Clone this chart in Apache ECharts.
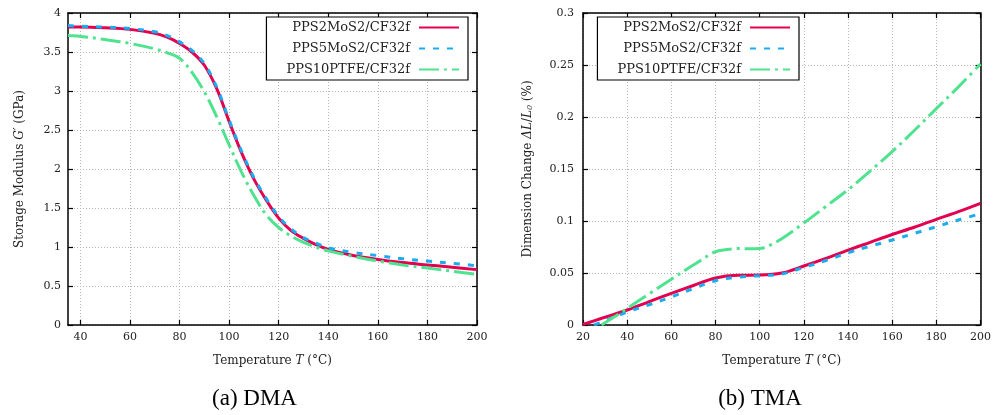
<!DOCTYPE html>
<html>
<head>
<meta charset="utf-8">
<script src="https://cdn.jsdelivr.net/npm/echarts@6/dist/echarts.min.js"></script>
<style>
  html, body { margin: 0; padding: 0; background: #fff; }
  #chart { width: 994px; height: 415px; }
</style>
</head>
<body>
<div id="chart"></div>
<script>
// ---- Data ----
const seriesNames = ['PPS2MoS2/CF32f', 'PPS5MoS2/CF32f', 'PPS10PTFE/CF32f'];

// DMA: storage modulus G' (GPa) vs temperature (°C)
const dmaTemps = [35, 40, 50, 60, 70, 75, 80, 85, 90, 95, 100, 105, 110, 115, 120, 125, 130, 135, 140, 150, 160, 170, 180, 190, 200];
const dmaPPS2MoS2 = [3.82, 3.82, 3.81, 3.79, 3.74, 3.69, 3.61, 3.50, 3.33, 3.03, 2.61, 2.21, 1.87, 1.60, 1.37, 1.21, 1.11, 1.03, 0.97, 0.89, 0.84, 0.80, 0.77, 0.74, 0.71];
const dmaPPS5MoS2 = [3.84, 3.83, 3.82, 3.80, 3.76, 3.71, 3.63, 3.52, 3.35, 3.05, 2.63, 2.23, 1.89, 1.62, 1.39, 1.23, 1.12, 1.05, 0.99, 0.93, 0.89, 0.85, 0.82, 0.79, 0.76];
const dmaPPS10PTFE = [3.71, 3.70, 3.66, 3.61, 3.54, 3.49, 3.42, 3.24, 2.99, 2.67, 2.31, 1.96, 1.66, 1.41, 1.25, 1.14, 1.06, 1.00, 0.95, 0.88, 0.82, 0.77, 0.73, 0.69, 0.65];

// TMA: dimension change (%) vs temperature (°C)
const tmaTempsPPS2MoS2 = [20, 25, 30, 40, 50, 60, 70, 80, 90, 100, 110, 120, 130, 140, 150, 160, 170, 180, 190, 200];
const tmaPPS2MoS2 = [0.0005, 0.004, 0.0075, 0.0144, 0.0225, 0.0304, 0.038, 0.0452, 0.0478, 0.048, 0.050, 0.0567, 0.064, 0.072, 0.0795, 0.087, 0.094, 0.1016, 0.109, 0.117];
const tmaTempsPPS5MoS2 = [25, 30, 40, 50, 60, 70, 80, 90, 100, 110, 120, 130, 140, 150, 160, 170, 180, 190, 200];
const tmaPPS5MoS2 = [0.0, 0.004, 0.0125, 0.0195, 0.027, 0.035, 0.0426, 0.046, 0.0474, 0.049, 0.0554, 0.062, 0.0695, 0.0757, 0.0817, 0.088, 0.0945, 0.101, 0.107];
const tmaTempsPPS10PTFE = [28.4, 35, 40, 50, 60, 70, 80, 85, 90, 95, 100, 105, 110, 120, 130, 140, 150, 160, 170, 180, 190, 200];
const tmaPPS10PTFE = [0.0, 0.009, 0.016, 0.030, 0.044, 0.0577, 0.0705, 0.0725, 0.0735, 0.0733, 0.0735, 0.077, 0.083, 0.098, 0.114, 0.130, 0.148, 0.1667, 0.187, 0.208, 0.229, 0.251];

// Tick values
const dmaXTicks = [40, 60, 80, 100, 120, 140, 160, 180, 200];

// ---- Styling ----
const colors = ['#E3004F', '#1AABF0', '#4FE38F'];
const dashes = ['solid', [6, 8], [20, 5, 3, 5]];
const FONT = '"DejaVu Serif", serif';
const CAPTION_FONT = 'normal 23px "Liberation Serif", serif';

function zip(xs, ys) { return xs.map((x, i) => [x, ys[i]]); }

const axisLineStyle = { show: true, onZero: false, lineStyle: { color: '#000', width: 1.5 } };
const tickStyle = { show: true, inside: true, length: 5, lineStyle: { color: '#000', width: 1.2 } };
const gridLine = { show: true, lineStyle: { color: '#b5b5b5', type: [1, 2], width: 1 } };
const labelStyle = { fontFamily: FONT, fontSize: 11, color: '#222' };

function mainX(gridIndex, min, max, extra) {
  return Object.assign({
    type: 'value', gridIndex, min, max, position: 'bottom',
    axisLine: axisLineStyle, axisTick: tickStyle, splitLine: gridLine,
    axisLabel: Object.assign({ margin: 7 }, labelStyle),
    name: 'Temperature {i|T} (°C)', nameLocation: 'middle', nameGap: 30,
    nameTextStyle: { fontFamily: FONT, fontSize: 12, color: '#222', rich: { i: { fontFamily: FONT, fontSize: 12, fontStyle: 'italic', color: '#222' } } }
  }, extra);
}
function mirrorX(gridIndex, min, max, extra) {
  return Object.assign({
    type: 'value', gridIndex, min, max, position: 'top',
    axisLine: axisLineStyle, axisTick: tickStyle, splitLine: { show: false },
    axisLabel: { show: false }
  }, extra);
}
function mainY(gridIndex, min, max, interval, name, gap, extra) {
  return Object.assign({
    type: 'value', gridIndex, min, max, interval, position: 'left',
    axisLine: axisLineStyle, axisTick: tickStyle, splitLine: gridLine,
    axisLabel: Object.assign({ margin: 7 }, labelStyle),
    name, nameLocation: 'middle', nameGap: gap, nameRotate: 90,
    nameTextStyle: { fontFamily: FONT, fontSize: 12, color: '#222',
      rich: { i: { fontFamily: FONT, fontSize: 12, fontStyle: 'italic', color: '#222' },
              s: { fontFamily: FONT, fontSize: 8, fontStyle: 'italic', color: '#222', verticalAlign: 'bottom' } } }
  }, extra);
}
function mirrorY(gridIndex, min, max, interval) {
  return {
    type: 'value', gridIndex, min, max, interval, position: 'right',
    axisLine: axisLineStyle, axisTick: tickStyle, splitLine: { show: false },
    axisLabel: { show: false }
  };
}

function legendCfg(right) {
  return {
    right, top: 17, orient: 'vertical', align: 'right',
    itemWidth: 40, itemHeight: 14, itemGap: 8,
    padding: [4, 8, 4, 20],
    borderColor: '#000', borderWidth: 1.2, backgroundColor: '#fff',
    selectedMode: false,
    itemStyle: { opacity: 0 },
    textStyle: { fontFamily: FONT, fontSize: 13, color: '#222', padding: [0, 4, 0, 0] },
    data: seriesNames
  };
}

function lineSeries(i, xAxisIndex, yAxisIndex, data) {
  return {
    name: seriesNames[i], type: 'line', xAxisIndex, yAxisIndex, data,
    smooth: 0.35, symbol: 'none', showSymbol: false,
    lineStyle: { color: colors[i], width: 3, type: dashes[i] },
    itemStyle: { color: colors[i] },
    z: 2 + i
  };
}

const chart = echarts.init(document.getElementById('chart'), null, { renderer: 'canvas' });
chart.setOption({
  animation: false,
  backgroundColor: '#fff',
  grid: [
    { left: 68, top: 13, width: 409, height: 312 },
    { left: 583, top: 13, width: 400, height: 312 }
  ],
  xAxis: [
    mainX(0, 35, 200, { axisTick: Object.assign({ customValues: dmaXTicks }, tickStyle), axisLabel: Object.assign({ margin: 7, customValues: dmaXTicks }, labelStyle) }),
    mirrorX(0, 35, 200, { axisTick: Object.assign({ customValues: dmaXTicks }, tickStyle) }),
    mainX(1, 20, 200, { interval: 20 }),
    mirrorX(1, 20, 200, { interval: 20 })
  ],
  yAxis: [
    mainY(0, 0, 4, 0.5, 'Storage Modulus {i|G′} (GPa)', 42),
    mirrorY(0, 0, 4, 0.5),
    mainY(1, 0, 0.3, 0.05, 'Dimension Change {i|ΔL}/{i|L}{s|0} (%)', 49, { axisLabel: Object.assign({ margin: 9 }, labelStyle) }),
    mirrorY(1, 0, 0.3, 0.05)
  ],
  legend: [legendCfg(994 - 468), legendCfg(994 - 799)],
  graphic: [
    { type: 'text', x: 254.5, y: 399, style: { text: '(a) DMA', font: CAPTION_FONT, fill: '#000', align: 'center', verticalAlign: 'middle' } },
    { type: 'text', x: 760, y: 399, style: { text: '(b) TMA', font: CAPTION_FONT, fill: '#000', align: 'center', verticalAlign: 'middle' } }
  ],
  series: [
    lineSeries(0, 0, 0, zip(dmaTemps, dmaPPS2MoS2)),
    lineSeries(1, 0, 0, zip(dmaTemps, dmaPPS5MoS2)),
    lineSeries(2, 0, 0, zip(dmaTemps, dmaPPS10PTFE)),
    lineSeries(0, 2, 2, zip(tmaTempsPPS2MoS2, tmaPPS2MoS2)),
    lineSeries(1, 2, 2, zip(tmaTempsPPS5MoS2, tmaPPS5MoS2)),
    lineSeries(2, 2, 2, zip(tmaTempsPPS10PTFE, tmaPPS10PTFE))
  ]
});
</script>
</body>
</html>
